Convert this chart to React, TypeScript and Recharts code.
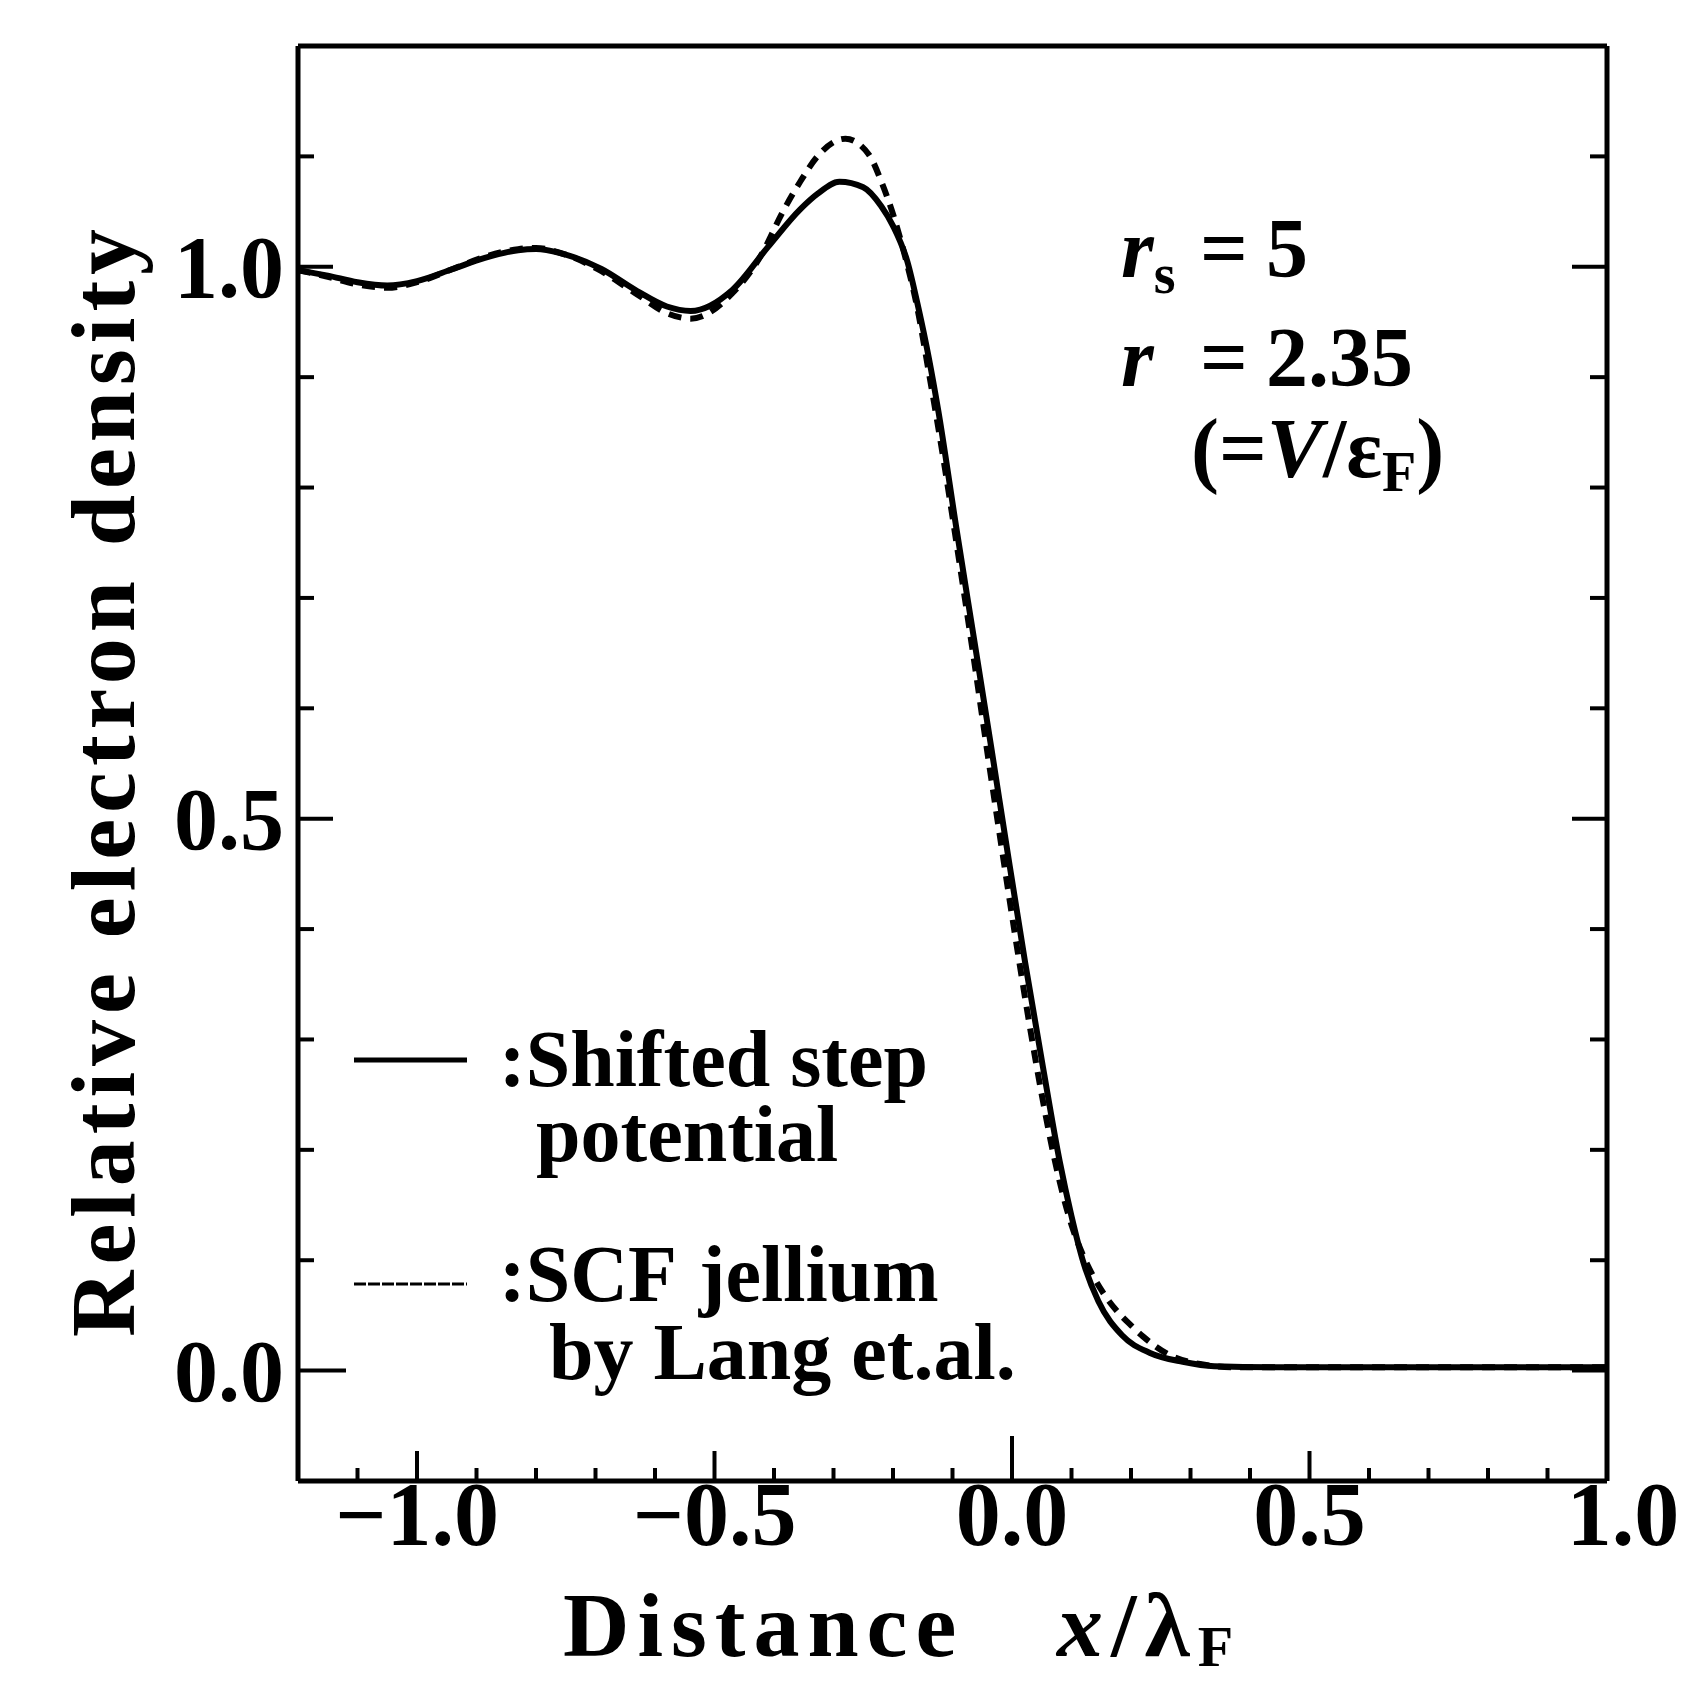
import React from "react";
import { LineChart, Line, XAxis, YAxis } from "recharts";

// shifted step potential (solid)
const stepX = [
  -1.2, -1.15, -1.1, -1.05, -1.0, -0.94, -0.886, -0.83, -0.8, -0.75, -0.69, -0.63, -0.58, -0.54,
  -0.47, -0.41, -0.356, -0.327, -0.29, -0.25, -0.22, -0.2, -0.176, -0.157, -0.14, -0.124,
  -0.094, -0.063, -0.035, -0.007, 0.022, 0.052, 0.08, 0.1, 0.12, 0.145, 0.185, 0.232, 0.287,
  0.34, 0.45, 0.75, 1.0,
];
const stepY = [
  0.997, 0.992, 0.986, 0.983, 0.987, 0.998, 1.008, 1.015, 1.016, 1.011, 0.998, 0.978, 0.964, 0.96,
  0.979, 1.018, 1.052, 1.066, 1.077, 1.072, 1.055, 1.037, 1.005, 0.962, 0.918, 0.87,
  0.765, 0.66, 0.565, 0.468, 0.37, 0.275, 0.19, 0.14, 0.098, 0.063, 0.032, 0.016, 0.008,
  0.004, 0.003, 0.003, 0.003,
];

// SCF jellium, Lang et al. (dashed)
const jelliumX = [
  -1.2, -1.15, -1.1, -1.05, -1.0, -0.94, -0.886, -0.83, -0.8, -0.75, -0.69, -0.63, -0.58, -0.54,
  -0.47, -0.42, -0.386, -0.356, -0.327, -0.28, -0.241, -0.218, -0.199, -0.18, -0.16, -0.14,
  -0.115, -0.09, -0.065, -0.04, -0.018, 0.005, 0.028, 0.05, 0.075, 0.1, 0.119, 0.136, 0.155, 0.178,
  0.2, 0.22, 0.262, 0.316, 0.38, 0.5, 0.75, 1.0,
];
const jelliumY = [
  0.997, 0.991, 0.984, 0.981, 0.986, 0.998, 1.009, 1.016, 1.017, 1.011, 0.996, 0.975, 0.958, 0.953,
  0.976, 1.012, 1.049, 1.077, 1.1, 1.116, 1.102, 1.075, 1.046, 1.01, 0.965, 0.905,
  0.825, 0.738, 0.648, 0.555, 0.476, 0.395, 0.318, 0.25, 0.183, 0.132, 0.105, 0.086, 0.069, 0.053,
  0.041, 0.031, 0.015, 0.006, 0.003, 0.003, 0.003, 0.003,
];

const bottomTicks = [
  -1.1, -1.0, -0.9, -0.8, -0.7, -0.6, -0.5, -0.4, -0.3, -0.2, -0.1, 0, 0.1, 0.2, 0.3, 0.4, 0.5,
  0.6, 0.7, 0.8, 0.9, 1.0,
];
const bottomLabels: Record<string, string> = { "-1": "\u22121.0", "-0.5": "\u22120.5", "0": "0.0", "0.5": "0.5", "1": "1.0" };
const topTicks = [-1.0, -0.75, -0.5, -0.25, 0, 0.25, 0.5, 0.75];
const sideTicks = [0, 0.1, 0.2, 0.3, 0.4, 0.5, 0.6, 0.7, 0.8, 0.9, 1.0, 1.1];
const leftLabels: Record<string, string> = { "0": "0.0", "0.5": "0.5", "1": "1.0" };

const stepData = stepX.map((x, i) => ({ x, y: stepY[i] }));
const jelliumData = jelliumX.map((x, i) => ({ x, y: jelliumY[i] }));

const FONT = "'Liberation Serif', 'Times New Roman', serif";
const near = (a: number, b: number) => Math.abs(a - b) < 1e-6;
const isMajor = (v: number) => [-1, -0.5, 0, 0.5, 1].some((m) => near(v, m));

const BottomTick = (props: any) => {
  const { x, y, payload } = props;
  const v = payload.value;
  const len = near(v, 0) ? 45 : isMajor(v) ? 30 : 13;
  const label = isMajor(v) ? bottomLabels[String(Math.round(v * 10) / 10)] : null;
  return (
    <g>
      {!near(v, 1) && <line x1={x} x2={x} y1={y} y2={y - len} stroke="#000" strokeWidth={4} />}
      {label && (
        <text
          x={near(v, 1) ? x + 16 : x}
          y={y + 64}
          textAnchor="middle"
          fontFamily={FONT}
          fontWeight="bold"
          fontSize={90}
          fill="#000"
        >
          {label}
        </text>
      )}
    </g>
  );
};

const TopTick = (props: any) => {
  const { x, y, payload } = props;
  const v = payload.value;
  const len = near(v, 0) ? 43 : isMajor(v) ? 38 : 18;
  return <line x1={x} x2={x} y1={y} y2={y + len} stroke="#000" strokeWidth={4} />;
};

const LeftTick = (props: any) => {
  const { x, y, payload } = props;
  const v = payload.value;
  const len = near(v, 0) ? 48 : isMajor(v) ? 35 : 16;
  const label = isMajor(v) ? leftLabels[String(Math.round(v * 10) / 10)] : null;
  return (
    <g>
      <line x1={x} x2={x + len} y1={y} y2={y} stroke="#000" strokeWidth={4} />
      {label && (
        <text x={x - 14} y={y + 30} textAnchor="end" fontFamily={FONT} fontWeight="bold" fontSize={88} fill="#000">
          {label}
        </text>
      )}
    </g>
  );
};

const RightTick = (props: any) => {
  const { x, y, payload } = props;
  const v = payload.value;
  const len = isMajor(v) ? 35 : 17;
  return <line x1={x} x2={x - len} y1={y} y2={y} stroke="#000" strokeWidth={4} />;
};

const axisLine = { stroke: "#000", strokeWidth: 5 };

export default function App() {
  return (
    <div style={{ position: "fixed", left: 0, top: 0, width: 1681, height: 1682, background: "#fff" }}>
      <LineChart width={1681} height={1682} margin={{ top: 45, right: 73, bottom: 200, left: 297 }}>
        <XAxis
          xAxisId="bottom"
          type="number"
          dataKey="x"
          domain={[-1.2, 1.0]}
          allowDataOverflow
          ticks={bottomTicks}
          interval={0}
          height={1}
          tickSize={0}
          tickMargin={0}
          tickLine={false}
          axisLine={axisLine}
          tick={<BottomTick />}
        />
        <XAxis
          xAxisId="top"
          orientation="top"
          type="number"
          domain={[-1.2, 1.0]}
          allowDataOverflow
          ticks={topTicks}
          interval={0}
          height={1}
          tickSize={0}
          tickMargin={0}
          tickLine={false}
          axisLine={axisLine}
          tick={<TopTick />}
        />
        <YAxis
          yAxisId="left"
          type="number"
          domain={[-0.1, 1.2]}
          allowDataOverflow
          ticks={sideTicks}
          interval={0}
          width={1}
          tickSize={0}
          tickMargin={0}
          tickLine={false}
          axisLine={axisLine}
          tick={<LeftTick />}
        />
        <YAxis
          yAxisId="right"
          orientation="right"
          type="number"
          domain={[-0.1, 1.2]}
          allowDataOverflow
          ticks={sideTicks}
          interval={0}
          width={1}
          tickSize={0}
          tickMargin={0}
          tickLine={false}
          axisLine={axisLine}
          tick={<RightTick />}
        />
        <Line
          xAxisId="bottom"
          yAxisId="left"
          data={jelliumData}
          dataKey="y"
          type="monotone"
          stroke="#000"
          strokeWidth={6}
          strokeDasharray="13 9"
          dot={false}
          isAnimationActive={false}
        />
        <Line
          xAxisId="bottom"
          yAxisId="left"
          data={stepData}
          dataKey="y"
          type="monotone"
          stroke="#000"
          strokeWidth={6}
          dot={false}
          isAnimationActive={false}
        />

        {/* axis titles */}
        <text
          x={134}
          y={780}
          transform="rotate(-90 134 780)"
          textAnchor="middle"
          fontFamily={FONT}
          fontWeight="bold"
          fontSize={92}
          letterSpacing={6}
          fill="#000"
        >
          Relative electron density
        </text>
        <text x={563} y={1656} fontFamily={FONT} fontWeight="bold" fontSize={92} letterSpacing={8} fill="#000">
          Distance
          <tspan x={1057} fontStyle="italic">x</tspan>
          <tspan>/</tspan>
          <tspan>λ</tspan>
          <tspan fontSize={58} dy={10}>F</tspan>
        </text>

        {/* parameters */}
        <g fontFamily={FONT} fontWeight="bold" fontSize={84} fill="#000">
          <text x={1121} y={277}>
            <tspan fontStyle="italic">r</tspan>
            <tspan fontSize={56} dy={16}>s</tspan>
            <tspan x={1200} dy={-16}>=</tspan>
            <tspan x={1266}>5</tspan>
          </text>
          <text x={1121} y={386}>
            <tspan fontStyle="italic">r</tspan>
            <tspan x={1200}>=</tspan>
            <tspan x={1266}>2.35</tspan>
          </text>
          <text x={1191} y={477}>
            <tspan>(=</tspan>
            <tspan fontStyle="italic">V</tspan>
            <tspan>/ε</tspan>
            <tspan fontSize={56} dy={14}>F</tspan>
            <tspan dy={-14}>)</tspan>
          </text>
        </g>

        {/* legend */}
        <line x1={354} x2={467} y1={1060} y2={1060} stroke="#000" strokeWidth={5} />
        <line x1={354} x2={467} y1={1284} y2={1284} stroke="#000" strokeWidth={3} strokeDasharray="12 2" />
        <g fontFamily={FONT} fontWeight="bold" fontSize={80} fill="#000">
          <text x={499} y={1086}>:Shifted step</text>
          <text x={536} y={1161}>potential</text>
          <text x={499} y={1301}>
            :SCF<tspan dx={22}>jellium</tspan>
          </text>
          <text x={549} y={1379}>by Lang et.al.</text>
        </g>
      </LineChart>
    </div>
  );
}
